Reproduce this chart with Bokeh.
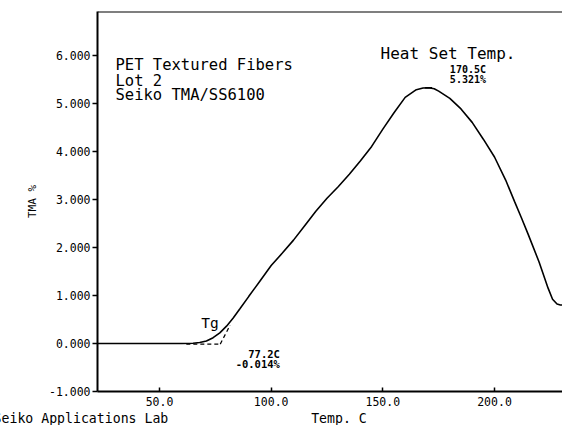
import math
from bokeh.plotting import figure
from bokeh.models import Label, Span, FixedTicker, NumeralTickFormatter, Title
from bokeh.embed import file_html
from bokeh.resources import INLINE

# --- data ---
temp_c = [22.2, 30, 40, 50, 60, 65, 68, 71, 74, 77, 80, 83, 86, 90, 95, 100,
          105, 110, 115, 120, 125, 130, 135, 140, 145, 150, 155, 160, 165,
          168, 170.5, 173, 175, 180, 185, 190, 195, 200, 205, 209, 212, 215,
          220, 224, 226, 228, 229.5, 230.5]
tma_pct = [0.0, 0.0, 0.0, 0.0, 0.0, 0.005, 0.02, 0.05, 0.12, 0.22, 0.36, 0.53,
           0.72, 0.98, 1.30, 1.62, 1.88, 2.15, 2.45, 2.75, 3.02, 3.26, 3.52,
           3.80, 4.10, 4.46, 4.80, 5.12, 5.28, 5.315, 5.321, 5.30, 5.25, 5.10,
           4.88, 4.60, 4.25, 3.88, 3.40, 2.95, 2.62, 2.28, 1.69, 1.15, 0.92,
           0.82, 0.80, 0.80]
baseline_t = [62.0, 77.2]
baseline_v = [-0.014, -0.014]
tangent_t = [77.2, 81.6]
tangent_v = [-0.014, 0.38]
peak_t = [170.5]
peak_v = [5.321]
x_ticks = [50, 100, 150, 200]
y_ticks = [-1, 0, 1, 2, 3, 4, 5, 6]

FONT = "DejaVu Sans Mono"
NB = "\u00a0"

p = figure(width=562, height=425, x_range=(22.23, 230.45), y_range=(-1.0, 6.907),
           min_border_left=97, min_border_right=0, min_border_top=11,
           min_border_bottom=34, toolbar_location=None, output_backend="svg")
p.outline_line_color = None
p.grid.visible = False
p.background_fill_color = "white"
p.border_fill_color = "white"

p.line(temp_c, tma_pct, line_color="black", line_width=1.6)
p.line(baseline_t, baseline_v, line_color="black", line_width=1.2, line_dash="4 3")
p.line(tangent_t, tangent_v, line_color="black", line_width=1.2, line_dash="4 3")
p.scatter(peak_t, peak_v, marker="dash", size=7, line_color="black", line_width=1.5)

# axes
p.xaxis.ticker = FixedTicker(ticks=x_ticks)
p.xaxis.formatter = NumeralTickFormatter(format="0.0")
p.xaxis.major_tick_in = 4
p.xaxis.major_tick_out = 0
p.xaxis.major_label_standoff = 5
p.yaxis.ticker = FixedTicker(ticks=y_ticks)
p.yaxis.formatter = NumeralTickFormatter(format="0.000")
p.yaxis.major_tick_in = 0
p.yaxis.major_tick_out = 5
p.yaxis.major_label_standoff = 2
p.yaxis.axis_label = "TMA %"
p.yaxis.axis_label_text_font = FONT
p.yaxis.axis_label_text_font_size = "11px"
p.yaxis.axis_label_text_font_style = "normal"
p.yaxis.axis_label_text_color = "black"
p.yaxis.axis_label_standoff = 7
for ax in (p.xaxis, p.yaxis):
    ax.axis_line_width = 2
    ax.axis_line_color = "black"
    ax.major_tick_line_color = "black"
    ax.major_tick_line_width = 1.5
    ax.minor_tick_line_color = None
    ax.major_label_text_font = FONT
    ax.major_label_text_font_size = "11.5px"
    ax.major_label_text_color = "black"

p.add_layout(Span(location=6.907, dimension="width", line_color="black", line_width=2))

# bottom line of text: lab credit (cut at the left edge) and the x axis title
bottom_text = "Seiko Applications Lab" + NB * 18 + "Temp. C"
p.add_layout(Title(text=bottom_text, align="left", offset=-103.9, standoff=0,
                   text_font=FONT, text_font_size="13.2px",
                   text_font_style="normal", text_color="black"), "below")

def lab(x, y, text, size, align="left", baseline="alphabetic", bold=False):
    p.add_layout(Label(x=x, y=y, text=text, text_font=FONT, text_font_size=size,
                       text_align=align, text_baseline=baseline,
                       text_color="black",
                       text_font_style="bold" if bold else "normal"))

lab(30.3, 5.80, "PET Textured Fibers", "15.5px")
lab(30.3, 5.47, "Lot 2", "15.5px")
lab(30.3, 5.17, "Seiko TMA/SS6100", "15.5px")
lab(149.0, 6.034, "Heat Set Temp.", "16px")
lab(188.1, 5.702, "170.5C", "10px", align="center", bold=True)
lab(188.1, 5.493, "5.321%", "10px", align="center", bold=True)
lab(68.7, 0.416, "Tg", "14.5px")
lab(103.9, -0.229, "77.2C", "10.5px", align="right", bold=True)
lab(103.9, -0.437, "-0.014%", "10.5px", align="right", bold=True)

open("out.html", "w").write(file_html(p, INLINE))
